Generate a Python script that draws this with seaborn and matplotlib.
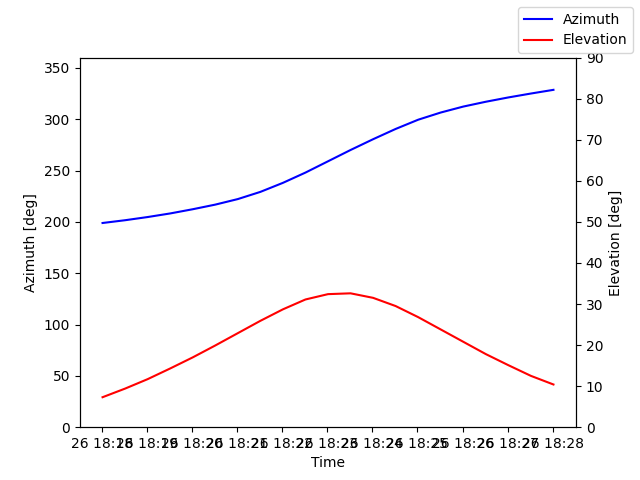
import numpy as np
import pandas as pd
import matplotlib
matplotlib.use("Agg")
import matplotlib.pyplot as plt
import matplotlib.dates as mdates
import seaborn as sns

# pass samples, every 30 s
times = pd.date_range("2023-03-26 18:18:01", periods=21, freq="30s")
azimuth = [198.9, 201.6, 204.7, 208.2, 212.3, 216.8, 222.2, 229.2, 238.0, 248.0,
           259.0, 270.0, 280.5, 290.5, 299.5, 306.5, 312.3, 317.0, 321.2, 325.0, 328.6]
elevation = [7.3, 9.4, 11.7, 14.3, 17.0, 19.9, 22.9, 25.9, 28.7, 31.1,
             32.4, 32.6, 31.5, 29.5, 26.8, 23.8, 20.8, 17.8, 15.1, 12.5, 10.4]

df = pd.DataFrame({"Time": times, "Azimuth": azimuth, "Elevation": elevation})

fig, ax1 = plt.subplots(figsize=(6.4, 4.8), dpi=100)
ax2 = ax1.twinx()

sns.lineplot(data=df, x="Time", y="Azimuth", color="b", label="Azimuth", ax=ax1, legend=False)
sns.lineplot(data=df, x="Time", y="Elevation", color="r", label="Elevation", ax=ax2, legend=False)

ax1.set_ylim(0, 360)
ax2.set_ylim(0, 90)
ax1.set_xlabel("Time")
ax1.set_ylabel("Azimuth [deg]")
ax2.set_ylabel("Elevation [deg]")

ax1.xaxis.set_major_locator(mdates.MinuteLocator())
ax1.xaxis.set_major_formatter(mdates.DateFormatter("%d %H:%M"))

handles = ax1.get_lines() + ax2.get_lines()
fig.legend(handles, [h.get_label() for h in handles], loc="upper right")

fig.savefig("out.png")
